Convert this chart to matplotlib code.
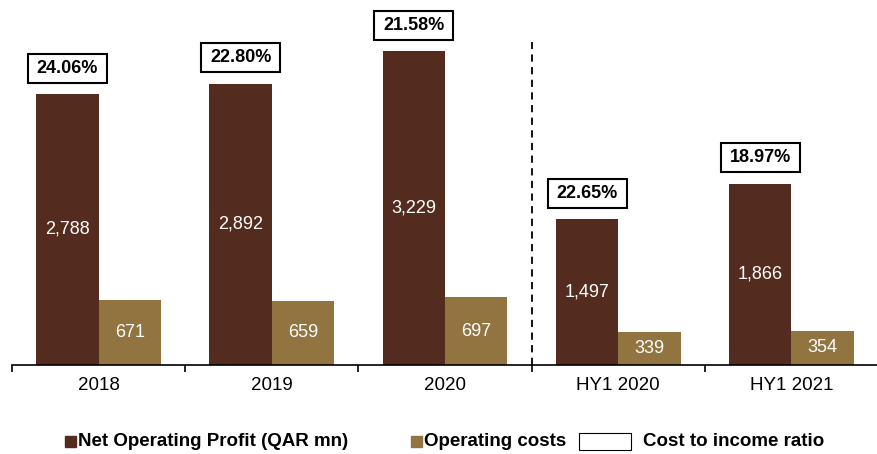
import matplotlib
matplotlib.use("Agg")
import matplotlib.pyplot as plt
from matplotlib.patches import Rectangle

plt.rcParams["font.family"] = ["Liberation Sans", "DejaVu Sans"]

categories = ["2018", "2019", "2020", "HY1 2020", "HY1 2021"]
net_operating_profit = [2788, 2892, 3229, 1497, 1866]
operating_costs = [671, 659, 697, 339, 354]
cost_income_ratio = ["24.06%", "22.80%", "21.58%", "22.65%", "18.97%"]

nop_color = "#542C1F"
oc_color = "#917440"

W, H = 878, 454
fig = plt.figure(figsize=(W / 100, H / 100), dpi=100)
ax = fig.add_axes([12 / W, 1 - 365 / H, 866 / W, 365 / H])

w = 0.36
x = list(range(len(categories)))
nop_bars = ax.bar([i - w / 2 for i in x], net_operating_profit, w, color=nop_color)
oc_bars = ax.bar([i + w / 2 for i in x], operating_costs, w, color=oc_color)

for bars, vals in ((nop_bars, net_operating_profit), (oc_bars, operating_costs)):
    for b, v in zip(bars, vals):
        ax.text(b.get_x() + b.get_width() / 2, v / 2, f"{v:,}", ha="center", va="center",
                color="white", fontsize=13)

# ratio boxes: fixed size boxes above the profit bars
bw, bh, gap = 0.456, 298, 118
for i, v, r in zip(x, net_operating_profit, cost_income_ratio):
    cx = i - w / 2
    ax.add_patch(Rectangle((cx - bw / 2, v + gap), bw, bh, fc="white", ec="black", lw=1.5,
                           clip_on=False, zorder=3))
    ax.text(cx, v + gap + bh / 2, r, ha="center", va="center", fontsize=13, fontweight="bold",
            zorder=4)

ax.plot([2.5, 2.5], [0, 3320], color="black", linestyle=(0, (4, 3)), lw=1.3)

ax.set_xlim(-0.5, 4.5)
ax.set_ylim(0, 3755)
for s in ["top", "right", "left"]:
    ax.spines[s].set_visible(False)
ax.spines["bottom"].set_linewidth(1.2)
ax.set_yticks([])
ax.set_xticks([i - 0.5 for i in range(len(categories) + 1)])
ax.set_xticklabels([])
ax.tick_params(axis="x", which="major", length=5, width=1.2, direction="out")
ax.set_xticks(x, minor=True)
ax.set_xticklabels(categories, minor=True, fontsize=13.5)
ax.tick_params(axis="x", which="minor", length=0, pad=9)

# legend drawn by hand to follow the original spacing
ly = 1 - 441 / H
sq = 11
fig.patches.append(Rectangle((65 / W, ly - sq / 2 / H), sq / W, sq / H,
                             transform=fig.transFigure, color=nop_color))
fig.text(78 / W, ly, "Net Operating Profit (QAR mn)", va="center", fontsize=13.5, fontweight="bold")
fig.patches.append(Rectangle((411 / W, ly - sq / 2 / H), sq / W, sq / H,
                             transform=fig.transFigure, color=oc_color))
fig.text(424 / W, ly, "Operating costs", va="center", fontsize=13.5, fontweight="bold")
fig.patches.append(Rectangle((579 / W, 1 - 450 / H), 52 / W, 17 / H,
                             transform=fig.transFigure, fc="white", ec="black", lw=0.8))
fig.text(643 / W, ly, "Cost to income ratio", va="center", fontsize=13.5, fontweight="bold")

fig.savefig("out.png", dpi=100)
